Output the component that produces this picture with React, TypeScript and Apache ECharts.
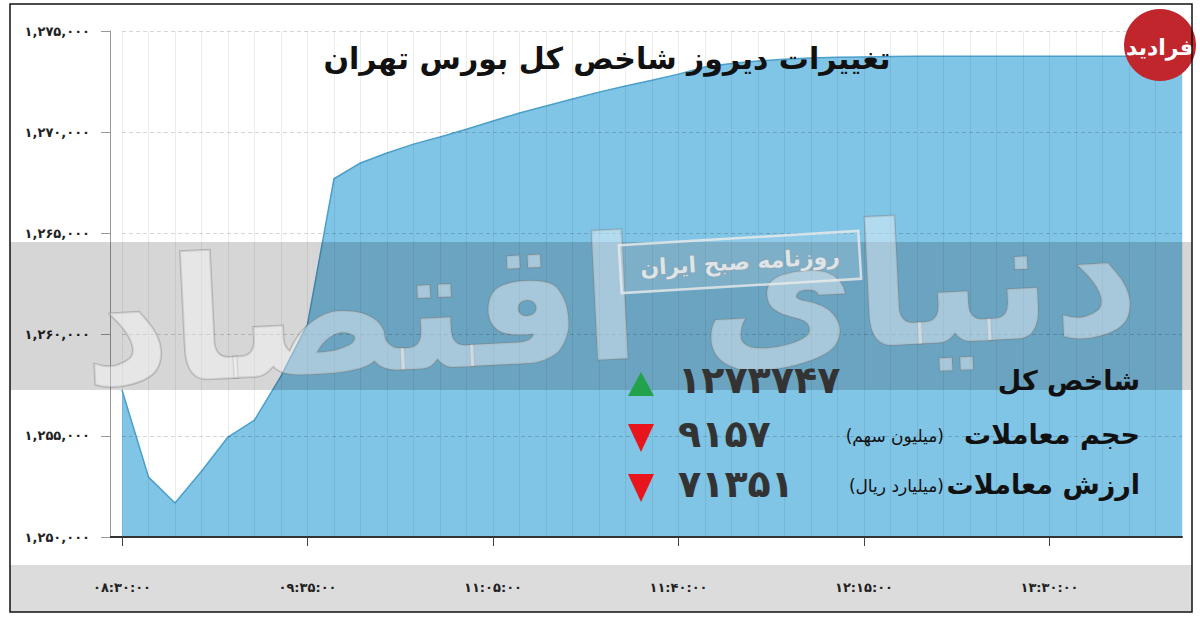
import React, { useEffect, useRef } from 'react';
import * as echarts from 'echarts';

const titleText = 'تغییرات دیروز شاخص کل بورس تهران';
const timeTickLabels = ['۰۸:۳۰:۰۰', '۰۹:۳۵:۰۰', '۱۱:۰۵:۰۰', '۱۱:۴۰:۰۰', '۱۲:۱۵:۰۰', '۱۳:۳۰:۰۰'];
const pointsPerTick = 7;
const indexValues = [
  1257260, 1252960, 1251680, 1253250, 1254940, 1255780, 1257950, 1260500,
  1267700, 1268480, 1268970, 1269410, 1269760, 1270150, 1270550, 1270950,
  1271290, 1271640, 1271980, 1272280, 1272570, 1272870, 1273220, 1273400,
  1273520, 1273600, 1273660, 1273700, 1273720, 1273740, 1273747, 1273747,
  1273747, 1273747, 1273747, 1273747, 1273747, 1273747, 1273747, 1273747,
  1273747,
];
const yMin = 1250000;
const yMax = 1275000;
const yStep = 5000;

const summaryLabels = ['شاخص کل', 'حجم معاملات', 'ارزش معاملات'];
const summaryUnits = ['', '(میلیون سهم)', '(میلیارد ریال)'];
const summaryValues = [1273747, 9157, 71351];
const summaryUp = [true, false, false];

const watermarkText = 'دنیای اقتصاد';
const watermarkSub = 'روزنامه صبح ایران';
const logoText = 'فرادید';

const FA = 'DejaVu Sans';
const faDigits = '۰۱۲۳۴۵۶۷۸۹';
const toFa = (s: string) => s.replace(/[0-9]/g, (d) => faDigits[Number(d)]);

export default function App() {
  const ref = useRef<HTMLDivElement>(null);
  useEffect(() => {
    if (!ref.current) return;
    const chart = echarts.init(ref.current, undefined, { renderer: 'svg' });
    const categories = indexValues.map((_, i) => String(i));
    const rowY = [380, 434, 484];

    const summaryGraphics: any[] = [];
    summaryLabels.forEach((label, i) => {
      summaryGraphics.push({
        type: 'text', x: 1140, y: rowY[i], z: 30,
        style: { text: label, font: `bold 27px "${FA}"`, fill: '#111', align: 'right', verticalAlign: 'middle' },
      });
      if (summaryUnits[i]) {
        summaryGraphics.push({
          type: 'text', x: 944, y: rowY[i] + 2, z: 30,
          style: { text: summaryUnits[i], font: `17px "${FA}"`, fill: '#111', align: 'right', verticalAlign: 'middle' },
        });
      }
      summaryGraphics.push({
        type: 'text', x: 678, y: rowY[i], z: 30,
        style: { text: toFa(String(summaryValues[i])), font: `bold 38px "${FA}"`, fill: '#333', align: 'left', verticalAlign: 'middle' },
      });
      const cx = 641;
      const cy = rowY[i] + 4;
      summaryGraphics.push({
        type: 'polygon', z: 30,
        shape: {
          points: summaryUp[i]
            ? [[cx - 13, cy + 12], [cx, cy - 12], [cx + 13, cy + 12]]
            : [[cx - 13, cy - 14], [cx + 13, cy - 14], [cx, cy + 14]],
        },
        style: { fill: summaryUp[i] ? '#22a24a' : '#e8161c' },
      });
    });

    chart.setOption({
      animation: false,
      grid: { left: 122, right: 18, top: 31, bottom: 85, containLabel: false },
      xAxis: {
        type: 'category',
        data: categories,
        boundaryGap: false,
        z: 3,
        axisLine: { show: true, lineStyle: { color: '#333', width: 2 } },
        axisTick: { show: true, interval: pointsPerTick - 1, length: 9, lineStyle: { color: '#444', width: 1 } },
        axisLabel: {
          interval: pointsPerTick - 1,
          margin: 44,
          color: '#222',
          fontFamily: FA,
          fontWeight: 'bold',
          fontSize: 13,
          formatter: (_v: string, idx: number) => timeTickLabels[Math.round(idx / pointsPerTick)] ?? '',
        },
        splitLine: { show: true, interval: 0, lineStyle: { color: 'rgba(0,0,0,0.07)', width: 1 } },
      },
      yAxis: {
        type: 'value',
        min: yMin,
        max: yMax,
        interval: yStep,
        offset: 12,
        z: 3,
        axisLine: { show: true, lineStyle: { color: '#999', width: 1 } },
        axisTick: { show: true, length: 9, lineStyle: { color: '#999' } },
        axisLabel: {
          margin: 20,
          color: '#222',
          fontFamily: FA,
          fontWeight: 'bold',
          fontSize: 13,
          formatter: (v: number) => toFa(v.toLocaleString('en-US')),
        },
        splitLine: { show: true, lineStyle: { color: 'rgba(0,0,0,0.16)', type: [4, 3], width: 1 } },
      },
      series: [
        {
          type: 'line',
          data: indexValues,
          symbol: 'none',
          smooth: false,
          lineStyle: { color: '#4c9fca', width: 1.5 },
          areaStyle: { color: '#80c4e6', opacity: 1 },
          z: 2,
        },
      ],
      graphic: [
        { type: 'rect', z: -5, shape: { x: 10, y: 565, width: 1182, height: 47 }, style: { fill: '#dcdcdc' } },
        { type: 'line', z: 4, shape: { x1: 110, y1: 537, x2: 122, y2: 537 }, style: { stroke: '#333', lineWidth: 2 } },
        { type: 'rect', z: 10, shape: { x: 10, y: 242, width: 1182, height: 148 }, style: { fill: 'rgba(0,0,0,0.16)' } },
        {
          type: 'text', x: 610, y: 300, z: 12, rotation: 0.05,
          style: {
            text: watermarkText, font: `bold 170px "${FA}"`, fill: 'rgba(255,255,255,0.4)',
            stroke: 'rgba(120,120,120,0.4)', lineWidth: 2, align: 'center', verticalAlign: 'middle',
          },
        },
        {
          type: 'group', x: 740, y: 262, rotation: 0.06, z: 13,
          children: [
            { type: 'rect', z: 13, shape: { x: -120, y: -24, width: 240, height: 48 }, style: { fill: 'rgba(255,255,255,0.12)', stroke: 'rgba(235,235,235,0.8)', lineWidth: 2.5 } },
            { type: 'text', z: 13, x: 0, y: 0, style: { text: watermarkSub, font: `bold 22px "${FA}"`, fill: 'rgba(240,240,240,0.85)', stroke: 'rgba(150,150,150,0.6)', lineWidth: 1, align: 'center', verticalAlign: 'middle' } },
          ],
        },
        {
          type: 'text', x: 607, y: 58, z: 30,
          style: { text: titleText, font: `bold 30px "${FA}"`, fill: '#111', align: 'center', verticalAlign: 'middle' },
        },
        ...summaryGraphics,
        { type: 'circle', z: 30, shape: { cx: 1160, cy: 45, r: 36 }, style: { fill: '#c1262d' } },
        { type: 'text', x: 1160, y: 47, z: 31, style: { text: logoText, font: `bold 22px "${FA}"`, fill: '#fff', align: 'center', verticalAlign: 'middle' } },
        { type: 'rect', z: 40, shape: { x: 10, y: 4, width: 1182, height: 608 }, style: { fill: 'none', stroke: '#111', lineWidth: 1.5 } },
      ],
    });
    return () => chart.dispose();
  }, []);
  return <div ref={ref} style={{ position: 'fixed', left: 0, top: 0, width: 1200, height: 622, background: '#fff' }} />;
}
